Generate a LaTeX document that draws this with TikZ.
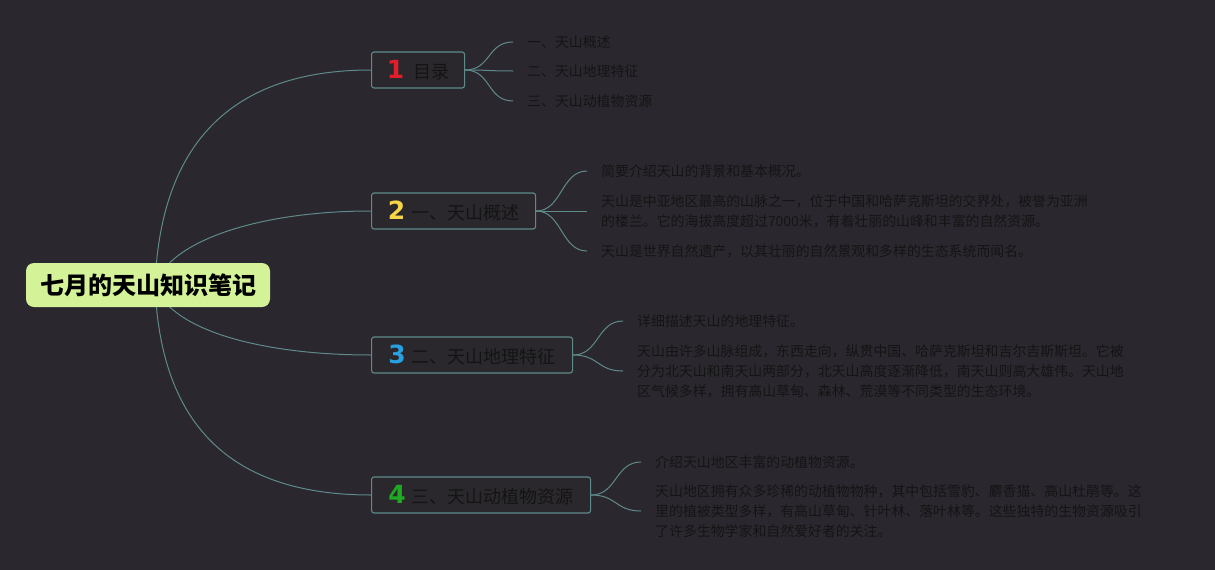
\documentclass[tikz,border=0pt]{standalone}
\usepackage{fontspec}
\setmainfont{Noto Sans CJK SC}
\newfontfamily\numfont{DejaVu Sans}
\usetikzlibrary{backgrounds}
\definecolor{bgc}{RGB}{43,39,47}
\definecolor{edgec}{RGB}{95,138,138}
\definecolor{txtc}{RGB}{20,20,20}
\definecolor{boxc}{RGB}{42,40,45}
\definecolor{rootc}{RGB}{212,242,152}
\definecolor{n1c}{RGB}{226,30,45}
\definecolor{n2c}{RGB}{246,214,72}
\definecolor{n3c}{RGB}{40,160,225}
\definecolor{n4c}{RGB}{30,170,35}
\begin{document}
\begin{tikzpicture}[x=1pt,y=-1pt,
  rootbox/.style={fill=rootc, rounded corners=8pt, minimum width=244pt, minimum height=44pt, inner sep=0pt, text=black, font=\fontsize{24}{26}\selectfont\bfseries},
  topic/.style={draw=edgec, line width=1.1pt, fill=boxc, rounded corners=2.5pt, minimum height=36pt, anchor=west, inner sep=0pt, text=txtc, font=\fontsize{18}{20}\selectfont},
  leaf/.style={anchor=west, inner xsep=14pt, inner ysep=0pt, align=left, text=txtc, font=\fontsize{13.9}{20}\selectfont},
  link/.style={draw=edgec, line width=1pt}]
\begin{scope}[on background layer]
\fill[bgc] (0,0) rectangle (1215,570);
\end{scope}
\useasboundingbox (0,0) rectangle (1215,570);

\coordinate (hub) at (155,285);
\node[rootbox] (root) at (148,285) {七月的天山知识笔记};

\node[topic, minimum width=93pt] (t1) at (371,70) {\textcolor{n1c}{\numfont\bfseries\fontsize{25}{25}\selectfont 1}\hspace{9pt}目录};
\node[topic, minimum width=164pt] (t2) at (371,211) {\textcolor{n2c}{\numfont\bfseries\fontsize{25}{25}\selectfont 2}\hspace{6pt}一、天山概述};
\node[topic, minimum width=201pt] (t3) at (371,355) {\textcolor{n3c}{\numfont\bfseries\fontsize{25}{25}\selectfont 3}\hspace{6pt}二、天山地理特征};
\node[topic, minimum width=219pt] (t4) at (371,495) {\textcolor{n4c}{\numfont\bfseries\fontsize{25}{25}\selectfont 4}\hspace{6pt}三、天山动植物资源};

\node[leaf] (l11) at (513,42) {一、天山概述};
\node[leaf] (l12) at (513,71) {二、天山地理特征};
\node[leaf] (l13) at (513,101) {三、天山动植物资源};

\node[leaf] (l21) at (587,171) {简要介绍天山的背景和基本概况。};
\node[leaf] (l22) at (587,211) {天山是中亚地区最高的山脉之一，位于中国和哈萨克斯坦的交界处，被誉为亚洲\\的楼兰。它的海拔高度超过7000米，有着壮丽的山峰和丰富的自然资源。};
\node[leaf] (l23) at (587,251) {天山是世界自然遗产，以其壮丽的自然景观和多样的生态系统而闻名。};

\node[leaf] (l31) at (623,321) {详细描述天山的地理特征。};
\node[leaf] (l32) at (623,371) {天山由许多山脉组成，东西走向，纵贯中国、哈萨克斯坦和吉尔吉斯斯坦。它被\\分为北天山和南天山两部分，北天山高度逐渐降低，南天山则高大雄伟。天山地\\区气候多样，拥有高山草甸、森林、荒漠等不同类型的生态环境。};

\node[leaf] (l41) at (641,462) {介绍天山地区丰富的动植物资源。};
\node[leaf] (l42) at (641,511) {天山地区拥有众多珍稀的动植物物种，其中包括雪豹、麝香猫、高山杜鹃等。这\\里的植被类型多样，有高山草甸、针叶林、落叶林等。这些独特的生物资源吸引\\了许多生物学家和自然爱好者的关注。};

\begin{scope}[on background layer]
\draw[link] (hub) .. controls +(5,-130) and +(-150,0) .. (t1.west);
\draw[link] (hub) .. controls +(15,-45) and +(-110,0) .. (t2.west);
\draw[link] (hub) .. controls +(15,45) and +(-110,0) .. (t3.west);
\draw[link] (hub) .. controls +(5,130) and +(-150,0) .. (t4.west);
\foreach \p/\c in {t1/l11,t1/l12,t1/l13,t2/l21,t2/l22,t2/l23,t3/l31,t3/l32,t4/l41,t4/l42}
  \draw[link] (\p.east) .. controls +(26,0) and +(-26,0) .. (\c.west);
\end{scope}
\end{tikzpicture}
\end{document}
